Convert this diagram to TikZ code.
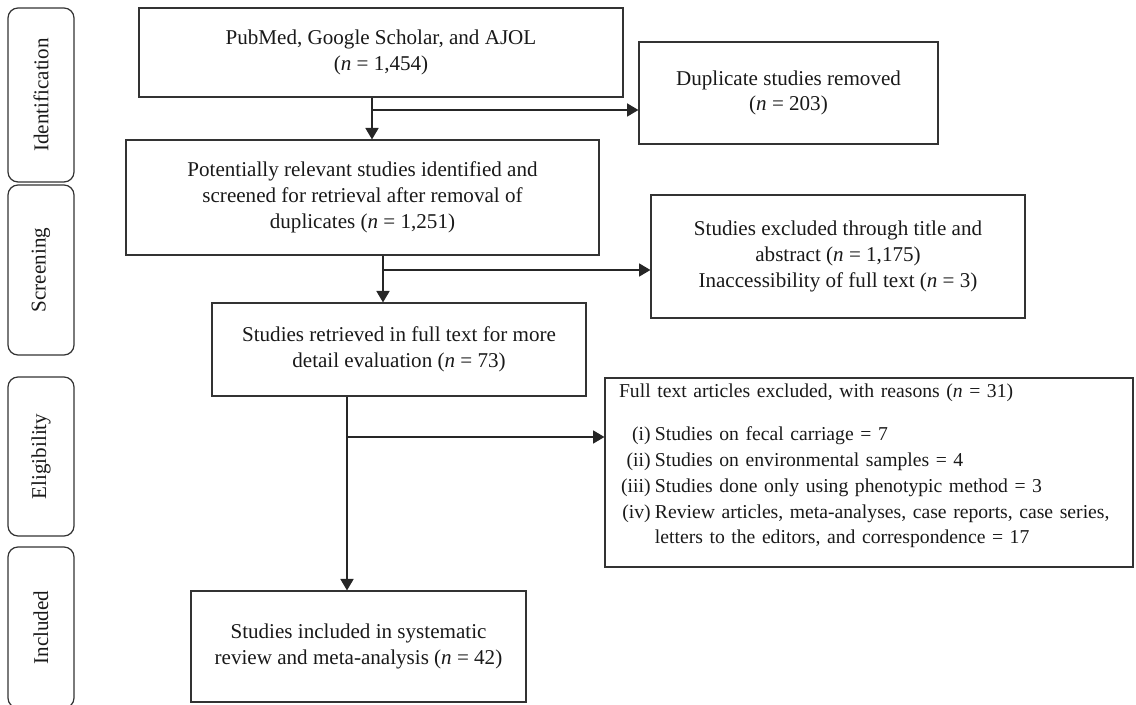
\documentclass[tikz,border=0pt]{standalone}
\usepackage{fontspec}
\setmainfont{Liberation Serif}
\usetikzlibrary{arrows.meta}
\newcommand{\nn}{\textit{n}}
\newcommand{\itm}[1]{\makebox[18pt][r]{#1}\hspace{2.4pt}}

\begin{document}
\begin{tikzpicture}[x=0.02cm, y=-0.02cm, line width=0.7pt,
	bx/.style={draw=black!80, text=black!90, align=center, inner sep=0pt,
		font=\fontsize{12}{14.7}\selectfont},
	phs/.style={draw=black!80, text=black!90, rounded corners=0.2cm, rotate=90,
		inner sep=0pt, minimum height=1.32cm, font=\fontsize{12}{14.7}\selectfont},
	arr/.style={draw=black!85, -{Triangle[length=6.5pt,width=7.5pt]}}]
	\clip (0,0) rectangle (1136,705);
	% phases
	\node[phs, minimum width=3.48cm] (pid) at (41,95) {Identification};
	\node[phs, minimum width=3.40cm] (psc) at (41,270) {Screening};
	\node[phs, minimum width=3.18cm] (pel) at (41,456.5) {Eligibility};
	\node[phs, minimum width=3.22cm] (pin) at (41,627.5) {Included};
	% boxes
	\node[bx, minimum width=9.68cm, minimum height=1.78cm] (src) at (381,52.5)
		{PubMed, Google Scholar, and AJOL\\(\nn{} = 1,454)};
	\node[bx, minimum width=5.98cm, minimum height=2.04cm] (dup) at (788.5,93)
		{Duplicate studies removed\\(\nn{} = 203)};
	\node[bx, minimum width=9.46cm, minimum height=2.30cm] (scr) at (362.5,197.5)
		{Potentially relevant studies identified and\\screened for retrieval after removal of\\duplicates (\nn{} = 1,251)};
	\node[bx, minimum width=7.48cm, minimum height=2.46cm] (exc) at (838,256.5)
		{Studies excluded through title and\\abstract (\nn{} = 1,175)\\Inaccessibility of full text (\nn{} = 3)};
	\node[bx, minimum width=7.48cm, minimum height=1.86cm] (ret) at (399,349.5)
		{Studies retrieved in full text for more\\detail evaluation (\nn{} = 73)};
	\node[bx, align=left, text width=10.0cm, inner xsep=0.28cm, minimum width=10.56cm,
		minimum height=3.78cm, font=\fontsize{11.2}{14.7}\selectfont] (ft) at (869,472.5)
		{Full text articles excluded, with reasons (\nn{} = 31)\\[9.7pt]
		\itm{(i)}Studies on fecal carriage = 7\\
		\itm{(ii)}Studies on environmental samples = 4\\
		\itm{(iii)}Studies done only using phenotypic method = 3\\
		\itm{(iv)}Review articles, meta-analyses, case reports, case series,\\
		\hspace*{20.4pt}letters to the editors, and correspondence = 17\\[-5pt]\mbox{}};
	\node[bx, minimum width=6.70cm, minimum height=2.22cm] (inc) at (358.5,646.5)
		{Studies included in systematic\\review and meta-analysis (\nn{} = 42)};
	% arrows
	\coordinate (j1) at (372,110);
	\coordinate (j2) at (383,270);
	\coordinate (j3) at (347,437);
	\draw[arr] (j1 |- src.south) -- (j1 |- scr.north);
	\draw[arr] (j1) -- (j1 -| dup.west);
	\draw[arr] (j2 |- scr.south) -- (j2 |- ret.north);
	\draw[arr] (j2) -- (j2 -| exc.west);
	\draw[arr] (j3 |- ret.south) -- (j3 |- inc.north);
	\draw[arr] (j3) -- (j3 -| ft.west);
\end{tikzpicture}
\end{document}
